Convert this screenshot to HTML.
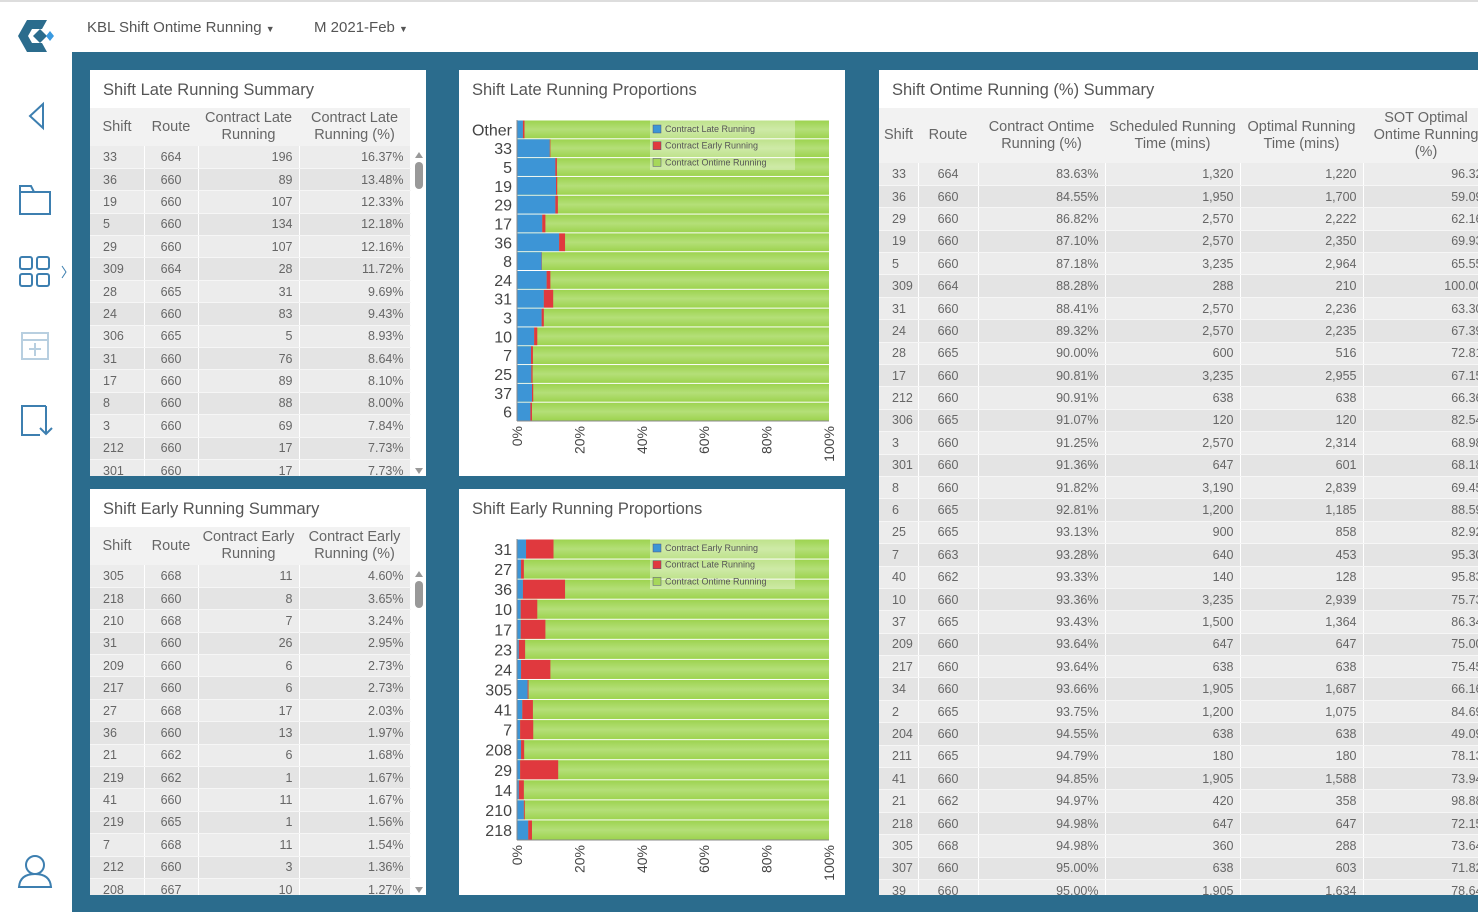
<!DOCTYPE html>
<html><head><meta charset="utf-8">
<style>
*{box-sizing:border-box;margin:0;padding:0}
body{width:1478px;height:912px;overflow:hidden;background:#fff;font-family:"Liberation Sans",sans-serif;color:#555;position:relative}
.topline{position:absolute;left:0;top:0;width:1478px;height:2px;background:#ddd}
.main{position:absolute;left:72px;top:52px;width:1406px;height:860px;background:#2b6c8d}
.panel{position:absolute;background:#fff;overflow:hidden}
.ptitle{position:absolute;left:13px;top:11px;font-size:16.5px;color:#555;white-space:nowrap}
table{position:absolute;border-collapse:collapse;font-size:12.5px;color:#666;table-layout:fixed}
th{font-weight:normal;font-size:14.5px;color:#666;background:#f2f2f2;line-height:17px;text-align:center;padding:0 2px}
td{height:22.4px;padding:0 6px;border-right:1px solid #fff;border-bottom:1px solid #f6f6f6;white-space:nowrap}
td.f{padding-left:13px}
td.c{text-align:center}
tr.o td{background:#ececec}
tr.e td{background:#e4e4e4}
td.r{text-align:right}
.sb{position:absolute;width:14px;background:#fff}
.nav{position:absolute;color:#555;font-size:15px;top:19px}
</style></head><body>
<div class="topline"></div>
<svg style="position:absolute;left:14px;top:16px" width="44" height="40">
<path d="M4 20 L13 4 L33 4 L28 13 L18 13 L14 20 L18 27 L28 27 L33 36 L13 36 Z" fill="#2b6c8d"/>
<path d="M19 20 L26 13 L33 20 L26 27Z" fill="#2b6c8d"/>
<path d="M36 15 L40 20 L36 25 L32 20Z" fill="#3a9ae0"/>
</svg>
<div class="nav" style="left:87px">KBL Shift Ontime Running <span style="font-size:9px">▼</span></div>
<div class="nav" style="left:314px">M 2021-Feb <span style="font-size:9px">▼</span></div>
<svg style="position:absolute;left:0;top:90px" width="72" height="820" fill="none" stroke="#3d7fb0" stroke-width="2">
<path d="M43 14 L30 26 L43 38 Z"/>
<path d="M20 96 L20 124 L50 124 L50 102 L34 102 L31 96 Z M20 102 L50 102"/>
<g><rect x="20" y="167" width="12" height="12" rx="2"/><rect x="37" y="167" width="12" height="12" rx="2"/><rect x="20" y="184" width="12" height="12" rx="2"/><rect x="37" y="184" width="12" height="12" rx="2"/><path d="M62 176 L66 182 L62 188" stroke-width="1"/></g>
<g stroke="#b8cfe0"><rect x="22" y="243" width="26" height="26"/><path d="M22 250 L48 250 M35 253 L35 266 M29 259 L41 259"/></g>
<path d="M46 316 L22 316 L22 345 L40 345 M46 316 L46 332 M40 338 L46 344 L52 338 M46 330 L46 344"/>
<g><circle cx="35" cy="775" r="9"/><path d="M19 797 Q20 784 35 784 Q50 784 51 797 Z"/></g>
</svg>
<div class="main"></div>

<div class="panel" style="left:90px;top:70px;width:336px;height:406px">
<div class="ptitle">Shift Late Running Summary</div>
<table id="t1" style="left:0;top:38px;width:320px"></table>
<div class="sb" style="left:322px;top:78px;height:328px"><div style="margin:4px 3px;border-left:4px solid transparent;border-right:4px solid transparent;border-bottom:6px solid #999;width:0"></div><div style="margin:2px 3px;width:8px;height:27px;background:#999;border-radius:4px"></div><div style="position:absolute;bottom:2px;left:3px;border-left:4px solid transparent;border-right:4px solid transparent;border-top:6px solid #999;width:0"></div></div>
</div>

<div class="panel" style="left:90px;top:489px;width:336px;height:406px">
<div class="ptitle">Shift Early Running Summary</div>
<table id="t2" style="left:0;top:38px;width:320px"></table>
<div class="sb" style="left:322px;top:78px;height:328px"><div style="margin:4px 3px;border-left:4px solid transparent;border-right:4px solid transparent;border-bottom:6px solid #999;width:0"></div><div style="margin:2px 3px;width:8px;height:27px;background:#999;border-radius:4px"></div><div style="position:absolute;bottom:2px;left:3px;border-left:4px solid transparent;border-right:4px solid transparent;border-top:6px solid #999;width:0"></div></div>
</div>

<div class="panel" style="left:459px;top:70px;width:386px;height:406px">
<div class="ptitle">Shift Late Running Proportions</div>
<svg id="c1" width="386" height="406" style="position:absolute;left:0;top:0"></svg>
</div>
<div class="panel" style="left:459px;top:489px;width:386px;height:406px">
<div class="ptitle">Shift Early Running Proportions</div>
<svg id="c2" width="386" height="406" style="position:absolute;left:0;top:0"></svg>
</div>

<div class="panel" style="left:879px;top:70px;width:599px;height:825px">
<div class="ptitle">Shift Ontime Running (%) Summary</div>
<table id="t3" style="left:0;top:38px;width:610px"></table>
</div>

<script>
// chart 1 data
const lateCats=["Other","33","5","19","29","17","36","8","24","31","3","10","7","25","37","6"];
const lateLate=[1.9,10.5,12.3,12.5,12.3,8.1,13.5,7.9,9.5,8.6,7.9,5.5,4.5,4.6,4.8,4.3];
const lateEarly=[0.5,0.2,0.5,0.4,0.8,1.0,1.9,0.1,1.2,3.0,0.7,1.0,0.6,0.4,0.4,0.5];
const lateLegend=["Contract Late Running","Contract Early Running","Contract Ontime Running"];
// chart 2 data
const earlyCats=["31","27","36","10","17","23","24","305","41","7","208","29","14","210","218"];
const earlyEarly=[2.9,1.3,1.9,1.2,1.2,0.6,1.3,3.4,1.7,1.0,1.3,1.0,0.6,2.2,3.6];
const earlyLate=[8.8,0.9,13.5,5.3,7.9,2.0,9.4,0.3,3.4,4.2,1.0,12.2,1.6,0.3,1.2];
const earlyLegend=["Contract Early Running","Contract Late Running","Contract Ontime Running"];
const tickVals=[0,20,40,60,80,100];
const tickLabels=["0%","20%","40%","60%","80%","100%"];

const NS="http://www.w3.org/2000/svg";
function mk(parent,tag,attrs){const e=document.createElementNS(NS,tag);for(const k in attrs)e.setAttribute(k,attrs[k]);parent.appendChild(e);return e;}
function drawChart(id,cats,a,b,legend,pfx){
  const svg=document.getElementById(id);
  const x0=58,x1=370,y0=50,y1=351;
  const xs=v=>x0+(x1-x0)*v/100;
  const band=(y1-y0)/cats.length;
  const defs=mk(svg,'defs',{});
  const g=mk(defs,'linearGradient',{id:id+'g',x1:0,y1:0,x2:0,y2:1});
  mk(g,'stop',{offset:'0','stop-color':'#9dd34f'});mk(g,'stop',{offset:'0.5','stop-color':'#b4df78'});mk(g,'stop',{offset:'1','stop-color':'#9dd34f'});
  cats.forEach((c,i)=>{
    const y=y0+i*band;
    const r1=mk(svg,'rect',{x:xs(0),y:y+0.5,width:xs(100)-xs(0),height:band-1,fill:'url(#'+id+'g)'});
    
    
    const r2=mk(svg,'rect',{x:xs(0),y:y+0.5,width:xs(a[i])-xs(0),height:band-1,fill:'#3d95d6'});
    
    
    const r3=mk(svg,'rect',{x:xs(a[i]),y:y+0.5,width:xs(a[i]+b[i])-xs(a[i]),height:band-1,fill:'#e0393e'});
    
    
    const t=mk(svg,'text',{x:x0-5,y:y+band/2+6,'text-anchor':'end','font-size':'16','fill':'#444'});
    t.textContent=c;
    
    
  });
  const ax=mk(svg,'line',{x1:x0,y1:y1,x2:x1,y2:y1,stroke:'#888','stroke-width':1});
  
  
  const ay=mk(svg,'line',{x1:x0,y1:y0,x2:x0,y2:y1,stroke:'#888','stroke-width':1});
  
  
  tickVals.forEach((v,i)=>{
    const x=xs(v)+5;
    const t=mk(svg,'text',{x:0,y:0,transform:'translate('+x+',356) rotate(-90)','text-anchor':'end','font-size':'14','fill':'#444'});
    t.textContent=tickLabels[i];
    
    
  });
  const lg=mk(svg,'rect',{x:191,y:50,width:145,height:50,fill:'#fff','fill-opacity':0.35});
  
  
  const cols=['#3d95d6','#e0393e','#a6d75a'];
  legend.forEach((l,i)=>{
    const s=mk(svg,'rect',{x:194,y:55+i*16.7,width:8,height:8,fill:cols[i],stroke:'#557','stroke-width':0.5});
    
    
    const t=mk(svg,'text',{x:206,y:62+i*16.7,'font-size':'9','fill':'#555'});
    t.textContent=l;
    
    
  });
}
drawChart('c1',lateCats,lateLate,lateEarly,lateLegend,'late');
drawChart('c2',earlyCats,earlyEarly,earlyLate,earlyLegend,'early');

function fillTable(id,head,widths,rows,hh){
  const t=document.getElementById(id);
  let h='<tr>'+head.map((c,i)=>'<th style="width:'+widths[i]+'px;height:'+hh+'px">'+c+'</th>').join('')+'</tr>';
  rows.forEach((r,i)=>{h+='<tr class="'+(i%2?'e':'o')+'">'+r.map((c,j)=>'<td class="'+(j===0?'f':j===1?'c':'r')+'">'+c+'</td>').join('')+'</tr>';});
  t.innerHTML=h;
  t.querySelectorAll('tr').forEach(tr=>{
    
    
  });
}
const t1=[["33","664","196","16.37%"],["36","660","89","13.48%"],["19","660","107","12.33%"],["5","660","134","12.18%"],["29","660","107","12.16%"],["309","664","28","11.72%"],["28","665","31","9.69%"],["24","660","83","9.43%"],["306","665","5","8.93%"],["31","660","76","8.64%"],["17","660","89","8.10%"],["8","660","88","8.00%"],["3","660","69","7.84%"],["212","660","17","7.73%"],["301","660","17","7.73%"]];
const t2=[["305","668","11","4.60%"],["218","660","8","3.65%"],["210","668","7","3.24%"],["31","660","26","2.95%"],["209","660","6","2.73%"],["217","660","6","2.73%"],["27","668","17","2.03%"],["36","660","13","1.97%"],["21","662","6","1.68%"],["219","662","1","1.67%"],["41","660","11","1.67%"],["219","665","1","1.56%"],["7","668","11","1.54%"],["212","660","3","1.36%"],["208","667","10","1.27%"]];
const t3=`33 664 83.63% 1,320 1,220 96.32
36 660 84.55% 1,950 1,700 59.09
29 660 86.82% 2,570 2,222 62.16
19 660 87.10% 2,570 2,350 69.93
5 660 87.18% 3,235 2,964 65.55
309 664 88.28% 288 210 100.00
31 660 88.41% 2,570 2,236 63.30
24 660 89.32% 2,570 2,235 67.39
28 665 90.00% 600 516 72.81
17 660 90.81% 3,235 2,955 67.15
212 660 90.91% 638 638 66.36
306 665 91.07% 120 120 82.54
3 660 91.25% 2,570 2,314 68.98
301 660 91.36% 647 601 68.18
8 660 91.82% 3,190 2,839 69.45
6 665 92.81% 1,200 1,185 88.59
25 665 93.13% 900 858 82.92
7 663 93.28% 640 453 95.30
40 662 93.33% 140 128 95.83
10 660 93.36% 3,235 2,939 75.73
37 665 93.43% 1,500 1,364 86.34
209 660 93.64% 647 647 75.00
217 660 93.64% 638 638 75.45
34 660 93.66% 1,905 1,687 66.16
2 665 93.75% 1,200 1,075 84.69
204 660 94.55% 638 638 49.09
211 665 94.79% 180 180 78.13
41 660 94.85% 1,905 1,588 73.94
21 662 94.97% 420 358 98.88
218 660 94.98% 647 647 72.15
305 668 94.98% 360 288 73.64
307 660 95.00% 638 603 71.82
39 660 95.00% 1,905 1,634 78.64`.split('\n').map(l=>l.split(' '));
fillTable('t1',["Shift","Route","Contract Late<br>Running","Contract Late<br>Running (%)"],[54,54,101,111],t1,38);
fillTable('t2',["Shift","Route","Contract Early<br>Running","Contract Early<br>Running (%)"],[54,54,101,111],t2,38);
fillTable('t3',["Shift","Route","Contract Ontime<br>Running (%)","Scheduled Running<br>Time (mins)","Optimal Running<br>Time (mins)","SOT Optimal<br>Ontime Running<br>(%)"],[39,60,127,135,123,126],t3,55);
</script>
</body></html>
